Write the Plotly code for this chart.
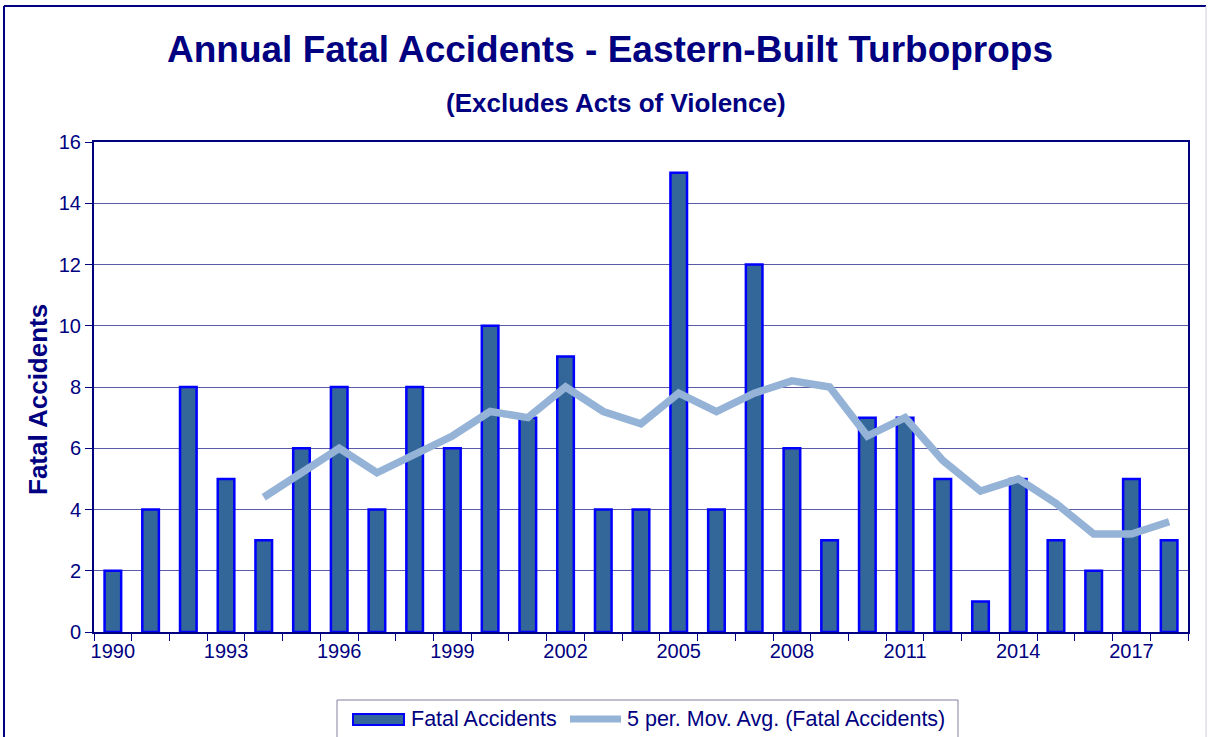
import plotly.graph_objects as go

years = list(range(1990, 2019))
fatal_accidents = [2, 4, 8, 5, 3, 6, 8, 4, 8, 6, 10, 7, 9, 4, 4, 15, 4, 12, 6, 3, 7, 7, 5, 1, 5, 3, 2, 5, 3]
mov_avg_years = list(range(1994, 2019))
mov_avg = [4.4, 5.2, 6.0, 5.2, 5.8, 6.4, 7.2, 7.0, 8.0, 7.2, 6.8, 7.8, 7.2, 7.8, 8.2, 8.0, 6.4, 7.0, 5.6, 4.6, 5.0, 4.2, 3.2, 3.2, 3.6]
x_tick_vals = [1990, 1993, 1996, 1999, 2002, 2005, 2008, 2011, 2014, 2017]

NAVY = "#000080"
BAR_FILL = "#336699"
BAR_EDGE = "#0000FF"
LINE_COL = "#95B3D7"
FONT = "Liberation Sans, Arial, sans-serif"

W, H = 1208, 737
ML, MR, MT, MB = 94, 20, 142, 105
plot_w = W - ML - MR
plot_h = H - MT - MB


def px(xpix):
    return (xpix - ML) / plot_w


def py(ypix):
    return (H - MB - ypix) / plot_h


fig = go.Figure()
fig.add_trace(go.Bar(
    x=years, y=fatal_accidents, name="Fatal Accidents", showlegend=False,
    marker=dict(color=BAR_FILL, line=dict(color=BAR_EDGE, width=2.5)),
))
fig.add_trace(go.Scatter(
    x=mov_avg_years, y=mov_avg, name="5 per. Mov. Avg. (Fatal Accidents)", showlegend=False,
    mode="lines", line=dict(color=LINE_COL, width=7.5),
))

fig.update_layout(
    width=W, height=H,
    margin=dict(l=ML, r=MR, t=MT, b=MB),
    paper_bgcolor="white", plot_bgcolor="white",
    font=dict(family=FONT, color=NAVY, size=20),
    bargap=0.56,
    showlegend=False,
)

fig.add_annotation(text="<b>Annual Fatal Accidents - Eastern-Built Turboprops</b>", x=px(610), y=py(50),
                   xref="paper", yref="paper", showarrow=False, xanchor="center", yanchor="middle",
                   font=dict(size=37, color=NAVY))
fig.add_annotation(text="<b>(Excludes Acts of Violence)</b>", x=px(616), y=py(103),
                   xref="paper", yref="paper", showarrow=False, xanchor="center", yanchor="middle",
                   font=dict(size=26, color=NAVY))
fig.add_annotation(text="<b>Fatal Accidents</b>", x=px(38), y=py(400), xref="paper", yref="paper",
                   showarrow=False, textangle=-90, font=dict(size=26, color=NAVY),
                   xanchor="center", yanchor="middle")

fig.update_xaxes(
    range=[1989.5, 2018.5], tickmode="array", tickvals=x_tick_vals,
    ticks="outside", ticklen=0, showgrid=False,
    showline=True, linecolor=NAVY, linewidth=2, mirror=True,
    tickfont=dict(size=20, color=NAVY),
    minor=dict(tick0=1989.5, dtick=1, ticks="outside", ticklen=7, tickcolor=NAVY, tickwidth=1, showgrid=False),
    zeroline=False,
)
fig.update_yaxes(
    range=[0, 16], dtick=2, ticks="outside", ticklen=7, tickcolor=NAVY,
    showgrid=True, gridcolor="#5A5AA8", gridwidth=1,
    showline=True, linecolor=NAVY, linewidth=2, mirror=True,
    tickfont=dict(size=20, color=NAVY), zeroline=False,
)

# outer chart border
fig.add_shape(type="line", xref="paper", yref="paper", x0=px(4), x1=px(4), y0=py(6), y1=py(745),
              line=dict(color=NAVY, width=2))
fig.add_shape(type="line", xref="paper", yref="paper", x0=px(4), x1=px(1206), y0=py(6), y1=py(6),
              line=dict(color=NAVY, width=2))
fig.add_shape(type="line", xref="paper", yref="paper", x0=px(1206), x1=px(1206), y0=py(6), y1=py(745),
              line=dict(color="#D0D0D8", width=1))

# legend (drawn manually to match the wide bar swatch)
fig.add_shape(type="rect", xref="paper", yref="paper", x0=px(337), x1=px(958), y0=py(700), y1=py(745),
              line=dict(color="#8080A0", width=1), fillcolor="white")
fig.add_shape(type="rect", xref="paper", yref="paper", x0=px(353), x1=px(404), y0=py(714), y1=py(725),
              line=dict(color=BAR_EDGE, width=2), fillcolor=BAR_FILL)
fig.add_shape(type="line", xref="paper", yref="paper", x0=px(570), x1=px(621), y0=py(719), y1=py(719),
              line=dict(color=LINE_COL, width=7))
fig.add_annotation(text="Fatal Accidents", x=px(409), y=py(719), xref="paper", yref="paper",
                   showarrow=False, xanchor="left", yanchor="middle", font=dict(size=21.5, color=NAVY))
fig.add_annotation(text="5 per. Mov. Avg. (Fatal Accidents)", x=px(625), y=py(719), xref="paper", yref="paper",
                   showarrow=False, xanchor="left", yanchor="middle", font=dict(size=21.5, color=NAVY))

fig.write_html("out.html", config={"displayModeBar": False},
               post_script="document.body.style.margin='0';")
